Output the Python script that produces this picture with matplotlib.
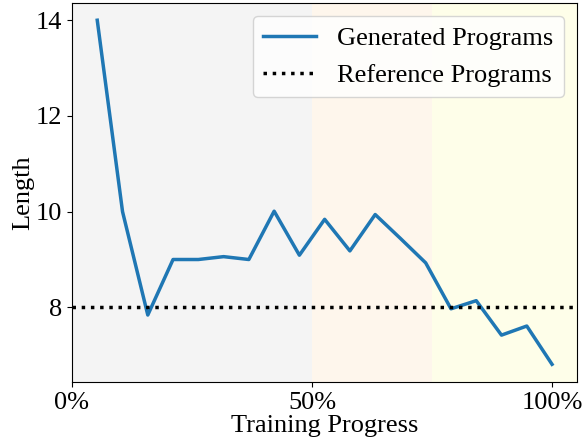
import numpy as np
import matplotlib
matplotlib.use('Agg')
import matplotlib.pyplot as plt

plt.rcParams['font.family'] = ['Liberation Serif', 'DejaVu Serif']

#Training progress (%) and mean generated program length
progress = [5.26, 10.53, 15.79, 21.05, 26.32, 31.58, 36.84, 42.11, 47.37, 52.63,
            57.89, 63.16, 68.42, 73.68, 78.95, 84.21, 89.47, 94.74, 100.0]
length = [14.0, 10.0, 7.84, 9.0, 9.0, 9.06, 9.0, 10.01, 9.09, 9.84,
          9.18, 9.94, 9.44, 8.93, 7.97, 8.14, 7.42, 7.61, 6.81]
reference_length = 8

#Stage shading: start, end, colour
stages = [(0, 50, '#f4f4f4'), (50, 75, '#fef6ec'), (75, 106, '#fefee9')]

fig = plt.figure(figsize=(5.82, 4.42), dpi=100)
ax = fig.add_axes([0.1237, 0.1357, 0.8677, 0.8575])

for start, end, colour in stages:
	ax.axvspan(start, end, color=colour, lw=0, zorder=0)

ax.plot(progress, length, color='#1f77b4', lw=2.5, label='Generated Programs')
ax.axhline(reference_length, color='black', ls=':', lw=2.5, label='Reference Programs')

ax.set_xlim(0, 105.2)
ax.set_ylim(6.44, 14.36)
ax.set_xticks([0, 50, 100])
ax.set_xticklabels(['0%', '50%', '100%'])
ax.set_yticks([8, 10, 12, 14])
ax.tick_params(labelsize=19)
ax.set_xlabel('Training Progress', fontsize=19, labelpad=1)
ax.set_ylabel('Length', fontsize=19, labelpad=1)
ax.legend(loc='upper right', fontsize=19)

fig.savefig('out.png', dpi=100)
